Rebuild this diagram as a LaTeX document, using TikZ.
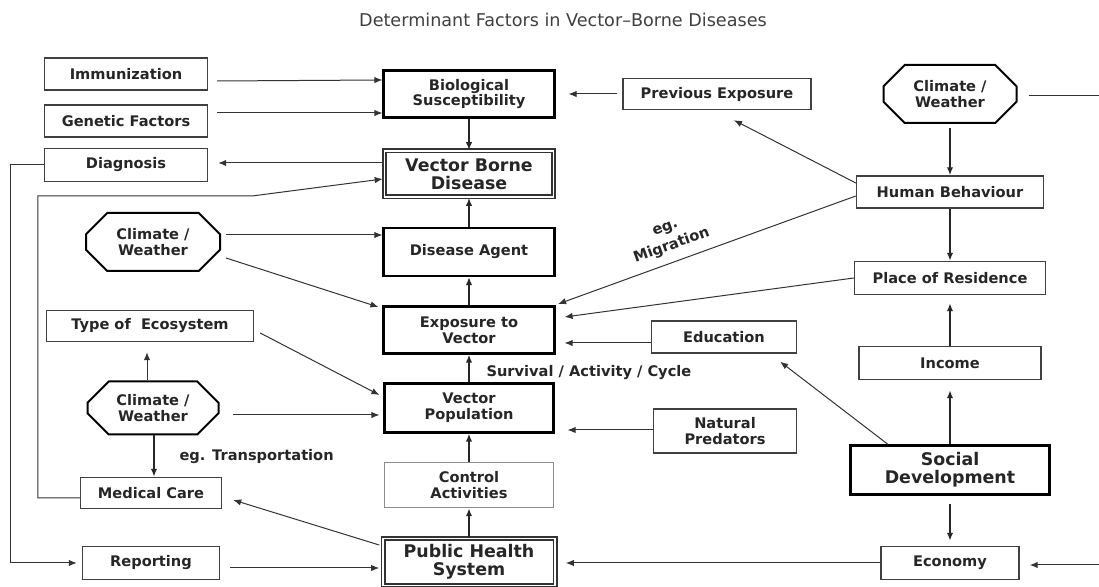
\documentclass[tikz,border=0pt]{standalone}
\usepackage{fontspec}
\setmainfont{DejaVu Sans}
\usetikzlibrary{arrows.meta, shapes.misc}

\begin{document}
\begin{tikzpicture}[
   x=0.5pt, y=-0.5pt, >={Latex[length=4pt,width=3.2pt]},
   font=\fontsize{7.3}{7.9}\selectfont\bfseries,
   box/.style   = {rectangle, draw=black!75, line width=0.7pt, fill=white,
                   text=black!85, align=center, inner sep=1pt},
   heavy/.style = {box, draw=black, line width=1.1pt},
   dbox/.style  = {box, draw=black!80, line width=0.8pt, double, double distance=0.9pt,
                   font=\fontsize{8.7}{9.2}\selectfont\bfseries},
   faint/.style = {box, draw=black!45},
   climate/.style = {chamfered rectangle, chamfered rectangle xsep=7pt, draw=black,
                   line width=1pt, fill=white, text=black!85, align=center, inner sep=1pt},
   arr/.style   = {->, draw=black!80, line width=0.5pt},
   tarr/.style  = {->, draw=black!85, line width=0.9pt},
   note/.style  = {text=black!85}]
  \useasboundingbox (0,0) rectangle (1099,587);
  \fill[white] (0,0) rectangle (1099,587);

  \node[font=\fontsize{8.8}{10}\selectfont, text=black!75] (title) at (563,20)
       {Determinant Factors in Vector--Borne Diseases};

  % left column
  \node[box, minimum width=81.5pt, minimum height=16pt] (immun) at (126,74) {Immunization};
  \node[box, minimum width=81.5pt, minimum height=16pt] (genetic) at (126,121) {Genetic Factors};
  \node[box, minimum width=81.5pt, minimum height=16.5pt] (diag) at (126,165) {Diagnosis};
  \node[climate, minimum width=67pt, minimum height=29pt] (cw2) at (153,242) {Climate /\\Weather};
  \node[box, minimum width=103.5pt, minimum height=15.5pt] (ecosys) at (150,326) {Type of\ \ Ecosystem};
  \node[climate, minimum width=65.5pt, minimum height=26.5pt] (cw3) at (153,408) {Climate /\\Weather};
  \node[box, minimum width=70.5pt, minimum height=15.5pt] (medcare) at (151,493) {Medical Care};
  \node[box, minimum width=68.5pt, minimum height=16.5pt] (report) at (151,563) {Reporting};

  % middle column
  \node[heavy, minimum width=85.5pt, minimum height=23.5pt] (bio) at (469,94) {Biological\\Susceptibility};
  \node[dbox, minimum width=84.5pt, minimum height=23pt] (vbd) at (469,174) {Vector Borne\\Disease};
  \node[heavy, minimum width=85.5pt, minimum height=24pt] (agent) at (469,252) {Disease Agent};
  \node[heavy, minimum width=85.5pt, minimum height=23.5pt] (expo) at (469,330) {Exposure to\\Vector};
  \node[heavy, minimum width=84.5pt, minimum height=24.5pt] (vecpop) at (469,408) {Vector\\Population};
  \node[faint, minimum width=84.5pt, minimum height=22.5pt] (control) at (469,485) {Control\\Activities};
  \node[dbox, minimum width=86pt, minimum height=23.5pt] (phs) at (469,562) {Public Health\\System};

  % inner right column
  \node[box, minimum width=94pt, minimum height=15.5pt] (prevexp) at (717,94) {Previous Exposure};
  \node[box, minimum width=72.5pt, minimum height=16pt] (educ) at (724,337) {Education};
  \node[box, minimum width=71.5pt, minimum height=22pt] (natpred) at (725,431) {Natural\\Predators};

  % right column
  \node[climate, minimum width=66.5pt, minimum height=29pt] (cw1) at (950,94) {Climate /\\Weather};
  \node[box, minimum width=93.5pt, minimum height=16pt] (hb) at (950,192) {Human Behaviour};
  \node[box, minimum width=95.5pt, minimum height=16.5pt] (por) at (950,278) {Place of Residence};
  \node[box, minimum width=91pt, minimum height=16.5pt] (income) at (950,363) {Income};
  \node[heavy, minimum width=99.5pt, minimum height=24.5pt,
        font=\fontsize{8.7}{9.2}\selectfont\bfseries] (social) at (950,470) {Social\\Development};
  \node[box, minimum width=69pt, minimum height=16.5pt] (economy) at (950,563) {Economy};

  \coordinate (edgetop) at (1099,96);
  \coordinate (edgebot) at (1099,565);
  \coordinate (kink) at (252,196);

  % into the core chain
  \draw[arr] ([shift={(9,7)}]immun.east) -- ([shift={(0,-14)}]bio.west);
  \draw[arr] ([shift={(9,-8)}]genetic.east) -- ([shift={(0,19)}]bio.west);
  \draw[arr] ([shift={(-5,0)}]prevexp.west) -- ([shift={(13,0)}]bio.east);
  \draw[tarr] (bio.south) -- (vbd.north);
  \draw[tarr] (agent.north) -- (vbd.south);
  \draw[tarr] (expo.north) -- (agent.south);
  \draw[tarr] (vecpop.north) -- node[midway, right=5pt, yshift=-2pt, note]{Survival / Activity / Cycle} (expo.south);
  \draw[tarr] (control.north) -- (vecpop.south);
  \draw[tarr] (phs.north) -- (control.south);
  \draw[arr] ([shift={(0,-11)}]vbd.west) -- ([shift={(10,-2)}]diag.east);

  % climate and ecosystem
  \draw[arr] ([shift={(5,-7)}]cw2.east) -- ([shift={(0,-17)}]agent.west);
  \draw[arr] ([shift={(5,16)}]cw2.east) -- ([shift={(-4,-23)}]expo.west);
  \draw[arr] ([shift={(-6,0)}]cw3.north) -- ([shift={(-3,10)}]ecosys.south);
  \draw[arr] ([shift={(6,7)}]ecosys.east) -- ([shift={(-4,-13)}]vecpop.west);
  \draw[arr] ([shift={(13,7)}]cw3.east) -- ([shift={(-4,7)}]vecpop.west);
  \draw[tarr] ([shift={(1,0)}]cw3.south) -- node[midway, right=9pt, note]{eg. Transportation} ([shift={(3,0)}]medcare.north);

  % health system loops
  \draw[arr] (diag.west) -- ++(-33,0) |- ([shift={(-5,0)}]report.west);
  \draw[arr] ([shift={(0,5)}]medcare.west) -- ++(-42,0) |- (kink) -- ([shift={(-1,5)}]vbd.west);
  \draw[arr] ([shift={(10,5)}]report.east) -- ([shift={(-3,6)}]phs.west);
  \draw[arr] ([shift={(-3,-17)}]phs.west) -- ([shift={(11,7)}]medcare.east);
  \draw[arr] (economy.west) -- ([shift={(10,1)}]phs.east);
  \draw[arr] ([shift={(0,-1)}]natpred.west) -- ([shift={(13,22)}]vecpop.east);

  % human side
  \draw[arr, -] ([shift={(11,2)}]cw1.east) -- (edgetop);
  \draw[arr] (edgebot) -- ([shift={(10,2)}]economy.east);
  \draw[tarr] ([shift={(0,4)}]cw1.south) -- (hb.north);
  \draw[tarr] (hb.south) -- (por.north);
  \draw[tarr] (income.north) -- ([shift={(0,8)}]por.south);
  \draw[tarr] (social.north) -- ([shift={(0,10)}]income.south);
  \draw[tarr] ([shift={(0,8)}]social.south) -- ([shift={(0,-5)}]economy.north);
  \draw[arr] ([shift={(0,-9)}]hb.west) -- ([shift={(17,10)}]prevexp.south);
  \draw[arr] ([shift={(0,4)}]hb.west) -- node[pos=0.6, sloped, above=1pt, align=center, note,
        font=\fontsize{7.3}{9.6}\selectfont\bfseries]{eg.\\Migration} ([shift={(2.5,-26)}]expo.east);
  \draw[arr] (por.west) -- ([shift={(9,-13)}]expo.east);
  \draw[arr] ([shift={(0,6)}]educ.west) -- ([shift={(9,13)}]expo.east);
  \draw[arr] ([shift={(-62,0)}]social.north) -- ([shift={(-17,8)}]educ.south east);
\end{tikzpicture}
\end{document}
